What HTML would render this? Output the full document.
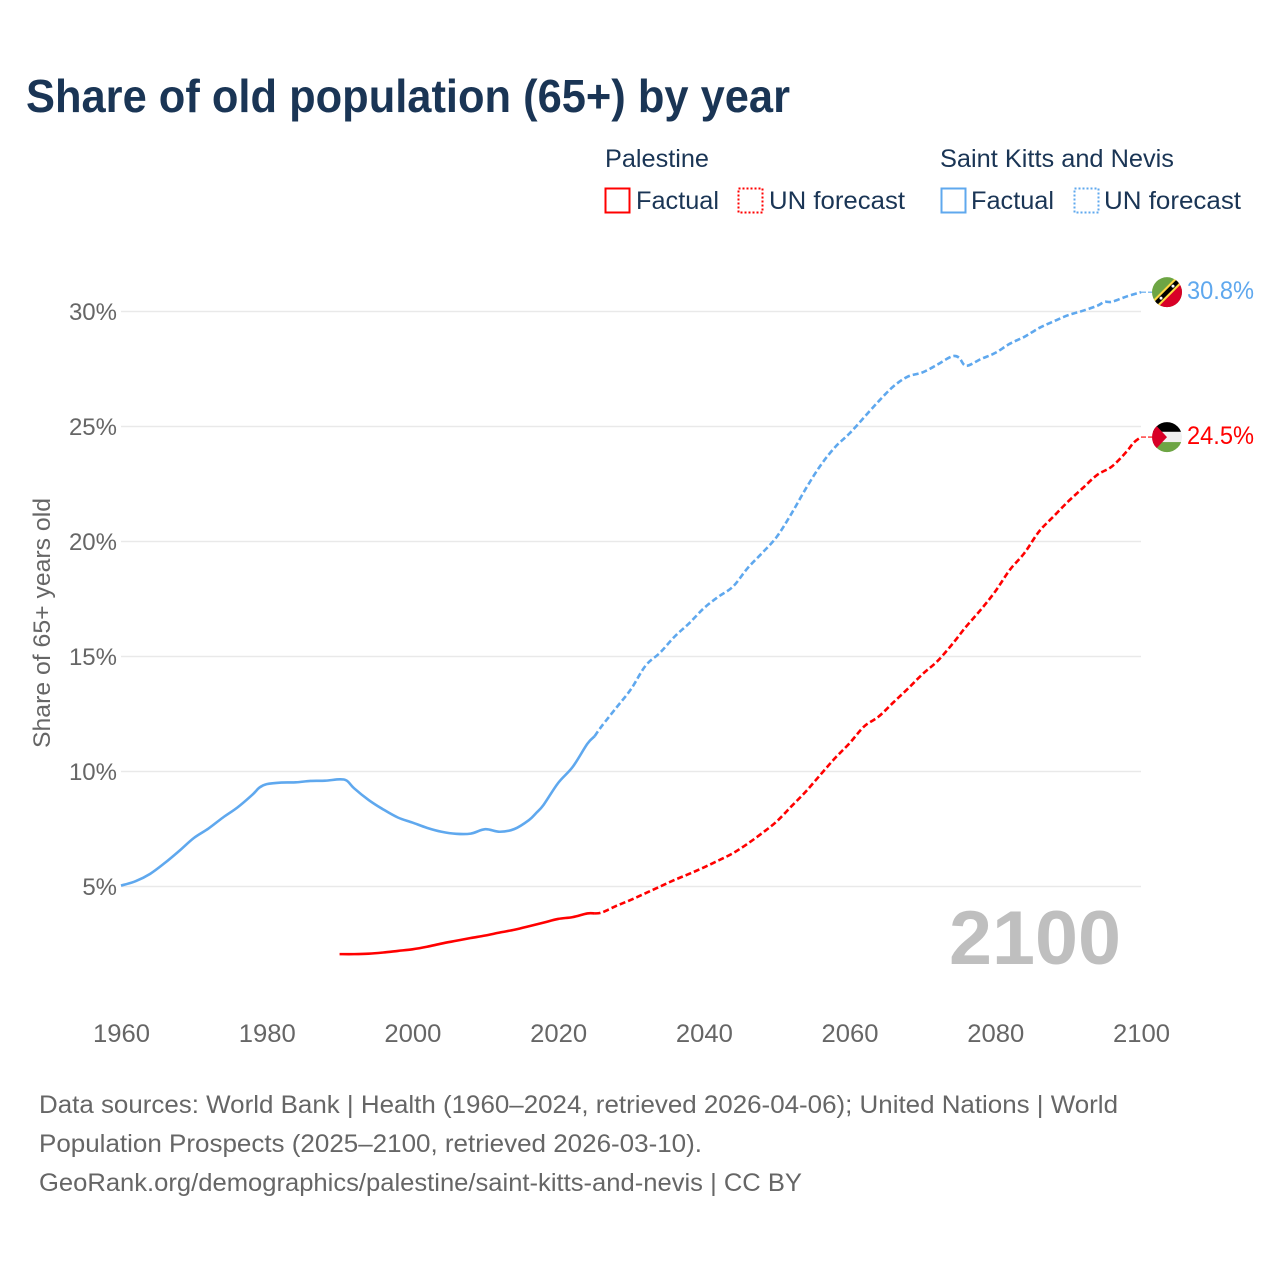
<!DOCTYPE html>
<html lang="en">
<head>
<meta charset="utf-8">
<title>Share of old population (65+) by year</title>
<style>
html,body{margin:0;padding:0;background:#fff;width:1280px;height:1280px;overflow:hidden}
svg{display:block}
text{font-family:"Liberation Sans",sans-serif}
</style>
</head>
<body>
<svg id="chart" width="1280" height="1280" viewBox="0 0 1280 1280" xmlns="http://www.w3.org/2000/svg">
  <defs>
    <clipPath id="flag-clip"><circle cx="0" cy="0" r="15"></circle></clipPath>
  </defs>
  <rect width="1280" height="1280" fill="#fff"></rect>
  <text x="26" y="112" font-size="46" font-weight="700" fill="#1a3555" textLength="764" lengthAdjust="spacingAndGlyphs">Share of old population (65+) by year</text>

  <g font-size="25" fill="#1a3555">
    <text x="605" y="167" textLength="104" lengthAdjust="spacingAndGlyphs">Palestine</text>
    <text x="940" y="167" textLength="234" lengthAdjust="spacingAndGlyphs">Saint Kitts and Nevis</text>
    <rect x="605.5" y="188.5" width="24" height="24" fill="none" stroke="#ff0000" stroke-width="2"></rect>
    <text x="636" y="209" textLength="83" lengthAdjust="spacingAndGlyphs">Factual</text>
    <rect x="738.5" y="188.5" width="24" height="24" fill="none" stroke="#ff0000" stroke-width="2" stroke-dasharray="2 2"></rect>
    <text x="769" y="209" textLength="136" lengthAdjust="spacingAndGlyphs">UN forecast</text>
    <rect x="941.5" y="188.5" width="24" height="24" fill="none" stroke="#5fa8ee" stroke-width="2"></rect>
    <text x="971" y="209" textLength="83" lengthAdjust="spacingAndGlyphs">Factual</text>
    <rect x="1074.5" y="188.5" width="24" height="24" fill="none" stroke="#5fa8ee" stroke-width="2" stroke-dasharray="2 2"></rect>
    <text x="1104" y="209" textLength="137" lengthAdjust="spacingAndGlyphs">UN forecast</text>
  </g>

  <g id="grid"></g>
  <g id="y-ticks"></g>
  <g id="x-ticks"></g>
  <text transform="translate(50,623) rotate(-90)" text-anchor="middle" font-size="24" fill="#666" textLength="250" lengthAdjust="spacingAndGlyphs">Share of 65+ years old</text>
  <text x="949" y="964" font-size="76" font-weight="700" fill="#bfbfbf" textLength="172" lengthAdjust="spacingAndGlyphs">2100</text>

  <g id="series"></g>

  <g id="flag-kn">
    <g clip-path="url(#flag-clip)">
      <rect x="-16" y="-16" width="32" height="32" fill="#6da544"></rect>
      <polygon points="-16,16 16,-16 16,16" fill="#d80027"></polygon>
      <polygon points="-16,10 10,-16 16,-16 16,-10 -10,16 -16,16" fill="#ffda44"></polygon>
      <polygon points="-16,13 13,-16 16,-13 -13,16 -16,16" fill="#000"></polygon>
      <circle cx="-6" cy="6" r="1.5" fill="#fff"></circle>
      <circle cx="6" cy="-6" r="1.5" fill="#fff"></circle>
    </g>
  </g>
  <g id="flag-ps">
    <g clip-path="url(#flag-clip)">
      <rect x="-16" y="-16" width="32" height="11" fill="#000"></rect>
      <rect x="-16" y="-5.3" width="32" height="10.6" fill="#f0f0f0"></rect>
      <rect x="-16" y="5" width="32" height="11" fill="#6da544"></rect>
      <polygon points="-16,-15 -14,-15 0,0 -14,15 -16,15" fill="#d80027"></polygon>
    </g>
  </g>
  <text id="label-kn" x="1187" font-size="25" fill="#5fa8ee" textLength="67" lengthAdjust="spacingAndGlyphs"></text>
  <text id="label-ps" x="1187" font-size="25" fill="#ff0000" textLength="67" lengthAdjust="spacingAndGlyphs"></text>

  <g font-size="25" fill="#666">
    <text x="39" y="1113" textLength="1079" lengthAdjust="spacingAndGlyphs">Data sources: World Bank | Health (1960–2024, retrieved 2026-04-06); United Nations | World</text>
    <text x="39" y="1152" textLength="663" lengthAdjust="spacingAndGlyphs">Population Prospects (2025–2100, retrieved 2026-03-10).</text>
    <text x="39" y="1191" textLength="763" lengthAdjust="spacingAndGlyphs">GeoRank.org/demographics/palestine/saint-kitts-and-nevis | CC BY</text>
  </g>
</svg>
<script>
const yTickValues = [5, 10, 15, 20, 25, 30];
const yTickLabels = ["5%", "10%", "15%", "20%", "25%", "30%"];
const xTickYears = [1960, 1980, 2000, 2020, 2040, 2060, 2080, 2100];

const kittsFactualYears = [1960,1962,1964,1966,1968,1970,1972,1974,1976,1978,1979,1980,1982,1984,1986,1988,1990,1991,1992,1994,1996,1998,2000,2002,2004,2006,2008,2010,2012,2014,2016,2017,2018,2020,2022,2024,2025];
const kittsFactualValues = [5.04,5.23,5.55,6.02,6.55,7.11,7.52,8.0,8.44,8.98,9.3,9.45,9.52,9.53,9.59,9.6,9.66,9.6,9.27,8.76,8.35,8.0,7.78,7.55,7.38,7.29,7.3,7.49,7.38,7.5,7.89,8.2,8.55,9.5,10.2,11.2,11.53];
const kittsForecastYears = [2025,2026,2028,2030,2032,2034,2036,2038,2040,2042,2044,2046,2048,2050,2052,2054,2056,2058,2060,2062,2064,2066,2068,2070,2072,2074,2075,2076,2078,2080,2082,2084,2086,2088,2090,2092,2094,2095,2096,2098,2100];
const kittsForecastValues = [11.53,11.98,12.78,13.58,14.6,15.17,15.87,16.45,17.1,17.6,18.04,18.84,19.5,20.2,21.2,22.3,23.3,24.1,24.7,25.4,26.1,26.74,27.17,27.35,27.68,28.04,28.0,27.64,27.93,28.2,28.6,28.9,29.28,29.57,29.84,30.03,30.25,30.42,30.42,30.65,30.84];

const palestineFactualYears = [1990,1992,1994,1996,1998,2000,2002,2004,2006,2008,2010,2012,2014,2016,2018,2020,2022,2024,2025];
const palestineFactualValues = [2.06,2.06,2.08,2.13,2.2,2.27,2.38,2.52,2.64,2.76,2.87,3.0,3.12,3.27,3.43,3.59,3.67,3.83,3.83];
const palestineForecastYears = [2025,2026,2028,2030,2032,2034,2036,2038,2040,2042,2044,2046,2048,2050,2052,2054,2056,2058,2060,2062,2064,2066,2068,2070,2072,2074,2076,2078,2080,2082,2084,2086,2088,2090,2092,2094,2096,2098,2099,2100];
const palestineForecastValues = [3.83,3.87,4.16,4.42,4.71,5.0,5.29,5.55,5.83,6.13,6.45,6.86,7.32,7.83,8.48,9.13,9.86,10.58,11.23,11.96,12.39,13.0,13.6,14.23,14.78,15.5,16.3,17.03,17.83,18.77,19.5,20.43,21.09,21.74,22.32,22.9,23.26,23.9,24.3,24.54];

const kittsEndLabel = "30.8%";
const palestineEndLabel = "24.5%";

const SVGNS = "http://www.w3.org/2000/svg";
const xScale = function (year) { return 121 + (year - 1960) * (1020 / 140); };
const yScale = function (value) { return 886.5 - (value - 5) * 23; };

const gridGroup = document.getElementById("grid");
const yTickGroup = document.getElementById("y-ticks");
const xTickGroup = document.getElementById("x-ticks");
const seriesGroup = document.getElementById("series");

yTickValues.forEach(function (value, i) {
  const line = document.createElementNS(SVGNS, "line");
  
  
  line.setAttribute("x1", xScale(1960));
  line.setAttribute("x2", xScale(2100));
  line.setAttribute("y1", yScale(value));
  line.setAttribute("y2", yScale(value));
  line.setAttribute("stroke", "#e9e9e9");
  line.setAttribute("stroke-width", "1.5");
  gridGroup.appendChild(line);

  const label = document.createElementNS(SVGNS, "text");
  
  
  label.setAttribute("x", 117);
  label.setAttribute("y", yScale(value) + 8.5);
  label.setAttribute("text-anchor", "end");
  label.setAttribute("font-size", "24");
  label.setAttribute("fill", "#666");
  label.textContent = yTickLabels[i];
  yTickGroup.appendChild(label);
});

xTickYears.forEach(function (year) {
  const label = document.createElementNS(SVGNS, "text");
  
  
  label.setAttribute("x", xScale(year) + 0.5);
  label.setAttribute("y", 1042);
  label.setAttribute("text-anchor", "middle");
  label.setAttribute("font-size", "25");
  label.setAttribute("fill", "#666");
  label.setAttribute("textLength", "57");
  label.setAttribute("lengthAdjust", "spacingAndGlyphs");
  label.textContent = String(year);
  xTickGroup.appendChild(label);
});

function pathFrom(years, values) {
  const pts = years.map(function (year, i) {
    return [xScale(year), yScale(values[i])];
  });
  let d = "M" + pts[0][0].toFixed(2) + " " + pts[0][1].toFixed(2);
  for (let i = 0; i < pts.length - 1; i++) {
    const p0 = pts[Math.max(i - 1, 0)];
    const p1 = pts[i];
    const p2 = pts[i + 1];
    const p3 = pts[Math.min(i + 2, pts.length - 1)];
    const c1x = p1[0] + (p2[0] - p0[0]) / 6;
    const c1y = p1[1] + (p2[1] - p0[1]) / 6;
    const c2x = p2[0] - (p3[0] - p1[0]) / 6;
    const c2y = p2[1] - (p3[1] - p1[1]) / 6;
    d += " C" + c1x.toFixed(2) + " " + c1y.toFixed(2) + " " + c2x.toFixed(2) + " " + c2y.toFixed(2) + " " + p2[0].toFixed(2) + " " + p2[1].toFixed(2);
  }
  return d;
}

function drawLine(years, values, color, dashed) {
  const path = document.createElementNS(SVGNS, "path");
  path.setAttribute("d", pathFrom(years, values));
  path.setAttribute("fill", "none");
  path.setAttribute("stroke", color);
  path.setAttribute("stroke-width", "2.6");
  path.setAttribute("stroke-linejoin", "round");
  if (dashed) path.setAttribute("stroke-dasharray", "6 3");
  seriesGroup.appendChild(path);
  return path;
}

const kittsFactualLine = drawLine(kittsFactualYears, kittsFactualValues, "#5fa8ee", false);


const kittsForecastLine = drawLine(kittsForecastYears, kittsForecastValues, "#5fa8ee", true);


const palestineFactualLine = drawLine(palestineFactualYears, palestineFactualValues, "#ff0000", false);


const palestineForecastLine = drawLine(palestineForecastYears, palestineForecastValues, "#ff0000", true);



function drawEnd(values, color, flagId, labelId, text) {
  const endValue = values[values.length - 1];
  const endY = yScale(endValue);
  const connector = document.createElementNS(SVGNS, "line");
  
  
  connector.setAttribute("x1", xScale(2100));
  connector.setAttribute("x2", xScale(2100) + 11);
  connector.setAttribute("y1", endY);
  connector.setAttribute("y2", endY);
  connector.setAttribute("stroke", color);
  connector.setAttribute("stroke-width", "1.2");
  connector.setAttribute("stroke-dasharray", "5 2");
  seriesGroup.appendChild(connector);
  document.getElementById(flagId).setAttribute("transform", "translate(1167," + endY + ")");
  const label = document.getElementById(labelId);
  label.setAttribute("y", endY + 7);
  label.textContent = text;
}

drawEnd(kittsForecastValues, "#5fa8ee", "flag-kn", "label-kn", kittsEndLabel);
drawEnd(palestineForecastValues, "#ff0000", "flag-ps", "label-ps", palestineEndLabel);
</script>
</body>
</html>
